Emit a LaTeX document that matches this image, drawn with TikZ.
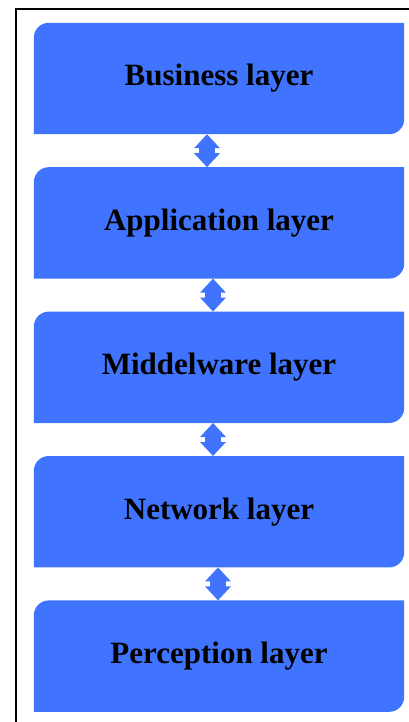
\documentclass[tikz,border=0pt]{standalone}
\usepackage{fontspec}
\setmainfont{Liberation Serif}
\usetikzlibrary{positioning,arrows.meta,backgrounds}
\definecolor{layerblue}{RGB}{64,116,255}

\begin{document}
\begin{tikzpicture}[x=1pt,y=1pt,
  layer/.style={minimum width=370pt, minimum height=111pt, inner sep=0pt,
    font=\fontsize{31}{36}\selectfont\bfseries},
  link/.style={line width=16pt, layerblue,
    {Triangle[width=25pt,length=14pt]}-{Triangle[width=25pt,length=14pt]}},
  node distance=33pt]
  \useasboundingbox (0,0) rectangle (409,-722);

  % Frame
  \draw[line width=2pt] (16,-722) -- (16,-9) -- (409,-9) ;

  % Layers
  \node[layer] (business) at (219,-78.5) {Business layer} ;
  \node[layer, below=of business] (application) {Application layer} ;
  \node[layer, below=of application] (middleware) {Middelware layer} ;
  \node[layer, below=of middleware] (network) {Network layer} ;
  \node[layer, below=of network] (perception) {Perception layer} ;

  % Boxes behind the labels
  \begin{scope}[on background layer]
    \foreach \n in {business,application,middleware,network,perception}
      \fill[layerblue] (\n.south west) -- ([yshift=-15pt]\n.north west)
        arc[start angle=180, end angle=90, radius=15pt] -- (\n.north east)
        -- ([yshift=15pt]\n.south east)
        arc[start angle=0, end angle=-90, radius=15pt] -- cycle ; %
  \end{scope}

  % Connect the layers
  \draw[link] ([xshift=-12pt]business.south) -- ([xshift=-12pt]application.north) ;
  \draw[link] ([xshift=-6pt]application.south) -- ([xshift=-6pt]middleware.north) ;
  \draw[link] ([xshift=-6pt]middleware.south) -- ([xshift=-6pt]network.north) ;
  \draw[link] ([xshift=-1pt]network.south) -- ([xshift=-1pt]perception.north) ;
\end{tikzpicture}
\end{document}
